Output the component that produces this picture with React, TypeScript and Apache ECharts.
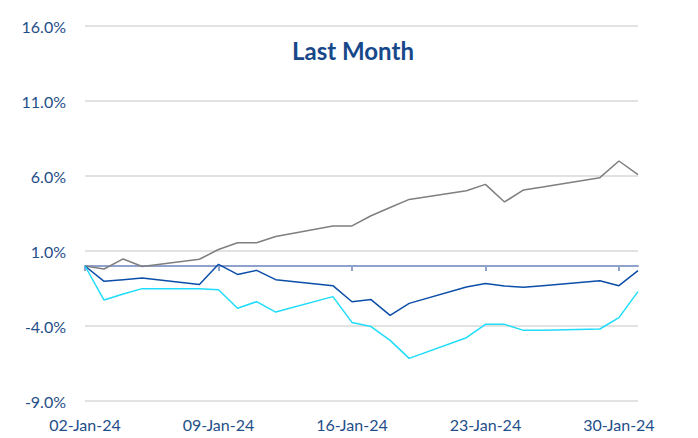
import React, { useEffect, useRef } from "react";
import * as echarts from "echarts";

const dates = [
  "2024-01-02", "2024-01-03", "2024-01-04", "2024-01-05", "2024-01-08",
  "2024-01-09", "2024-01-10", "2024-01-11", "2024-01-12", "2024-01-15",
  "2024-01-16", "2024-01-17", "2024-01-18", "2024-01-19", "2024-01-22",
  "2024-01-23", "2024-01-24", "2024-01-25", "2024-01-26", "2024-01-29",
  "2024-01-30", "2024-01-31",
];

const grayValues = [
  0, -0.2, 0.47, -0.03, 0.45, 1.1, 1.55, 1.55, 1.97, 2.67, 2.67, 3.35,
  3.9, 4.44, 5.02, 5.44, 4.27, 5.07, 5.27, 5.89, 7.0, 6.09,
];

const darkBlueValues = [
  0, -1.02, -0.91, -0.8, -1.24, 0.11, -0.56, -0.29, -0.91, -1.31, -2.38,
  -2.24, -3.29, -2.49, -1.4, -1.16, -1.33, -1.42, -1.31, -0.98, -1.31, -0.31,
];

const cyanValues = [
  0, -2.27, -1.87, -1.51, -1.51, -1.58, -2.82, -2.38, -3.07, -2.04, -3.76,
  -4.04, -4.96, -6.16, -4.78, -3.89, -3.89, -4.29, -4.28, -4.2, -3.44, -1.71,
];

const yTicks = [-9, -4, 1, 6, 11, 16];
const xLabelDays = [0, 7, 14, 21, 28];

const MONTHS = ["Jan", "Feb", "Mar", "Apr", "May", "Jun", "Jul", "Aug", "Sep", "Oct", "Nov", "Dec"];
const DAY = 86400000;
const start = Date.parse(dates[0]);
const endDay = 29; // 31-Jan-24

const dayIndex = (d: string) => Math.round((Date.parse(d) - start) / DAY);
const fmtDate = (v: number) => {
  const dt = new Date(start + v * DAY);
  const dd = String(dt.getUTCDate()).padStart(2, "0");
  const yy = String(dt.getUTCFullYear() % 100).padStart(2, "0");
  return `${dd}-${MONTHS[dt.getUTCMonth()]}-${yy}`;
};

const toPairs = (vals: number[]) => dates.map((d, i) => [dayIndex(d), vals[i]]);

const TEXT = "#1F4E89";
const FONT = "Lato";

export default function App() {
  const ref = useRef<HTMLDivElement>(null);
  useEffect(() => {
    if (!ref.current) return;
    const chart = echarts.init(ref.current, undefined, { renderer: "svg" });
    chart.setOption({
      animation: false,
      backgroundColor: "#ffffff",
      graphic: [
        {
          type: "text",
          x: 353,
          y: 50,
          style: {
            text: "Last Month",
            fill: "#17488A",
            font: `bold 24px ${FONT}`,
            align: "center",
            verticalAlign: "middle",
          },
        },
      ],
      grid: { left: 85, right: 60, top: 26, bottom: 37 },
      yAxis: {
        type: "value",
        min: yTicks[0],
        max: yTicks[yTicks.length - 1],
        interval: 5,
        axisLine: { show: false },
        axisTick: { show: false },
        axisLabel: {
          color: TEXT,
          fontSize: 16,
          fontFamily: FONT,
          margin: 19,
          formatter: (v: number) => v.toFixed(1) + "%",
        },
        splitLine: { lineStyle: { color: "#D9D9D9", width: 1.5 } },
      },
      xAxis: [
        {
          type: "value",
          min: 0,
          max: endDay,
          interval: 7,
          position: "bottom",
          axisLine: { show: false, onZero: false },
          axisTick: { show: false },
          splitLine: { show: false },
          axisLabel: {
            color: TEXT,
            fontSize: 16,
            fontFamily: FONT,
            margin: 15,
            customValues: xLabelDays,
            formatter: (v: number) => fmtDate(v),
          },
        },
        {
          type: "value",
          min: 0,
          max: endDay,
          interval: 7,
          position: "bottom",
          axisLine: { show: true, onZero: true, lineStyle: { color: "#8FA2CC", width: 2 } },
          axisTick: {
            show: true,
            length: 5,
            customValues: xLabelDays,
            lineStyle: { color: "#8FA2CC", width: 2 },
          },
          axisLabel: { show: false },
          splitLine: { show: false },
        },
      ],
      series: [
        {
          name: "Gray",
          type: "line",
          xAxisIndex: 0,
          data: toPairs(grayValues),
          symbol: "none",
          lineStyle: { color: "#7F7F7F", width: 1.5 },
          itemStyle: { color: "#7F7F7F" },
        },
        {
          name: "Dark blue",
          type: "line",
          xAxisIndex: 0,
          data: toPairs(darkBlueValues),
          symbol: "none",
          lineStyle: { color: "#0B4EA8", width: 1.5 },
          itemStyle: { color: "#0B4EA8" },
        },
        {
          name: "Cyan",
          type: "line",
          xAxisIndex: 0,
          data: toPairs(cyanValues),
          symbol: "none",
          lineStyle: { color: "#1FDCFA", width: 1.5 },
          itemStyle: { color: "#1FDCFA" },
        },
      ],
    });
    return () => chart.dispose();
  }, []);
  return (
    <div
      ref={ref}
      style={{ position: "absolute", left: 0, top: 0, width: 698, height: 438 }}
    />
  );
}
